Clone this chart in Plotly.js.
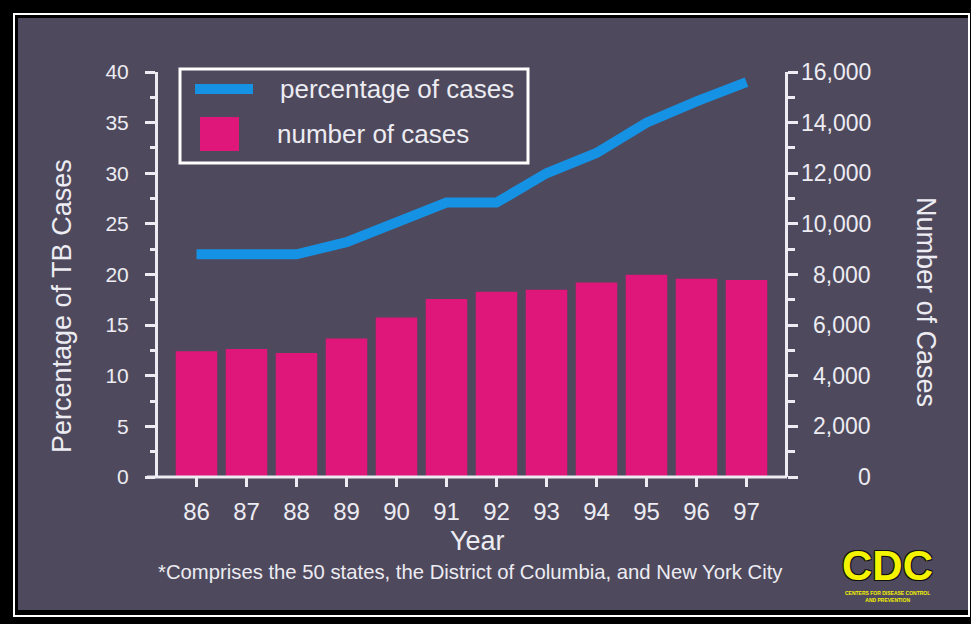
<!DOCTYPE html>
<html>
<head>
<meta charset="utf-8">
<script src="https://cdn.plot.ly/plotly-3.0.1.min.js"></script>
<style>
  html, body { margin: 0; padding: 0; background: #000; width: 971px; height: 624px; overflow: hidden; }
  #frame { position: absolute; left: 13px; top: 13px; width: 957px; height: 604px; box-sizing: border-box; border: 2px solid #fff; }
  #chart { position: absolute; left: 18px; top: 18px; width: 950px; height: 592px; }
</style>
</head>
<body>
<div id="frame"></div>
<div id="chart"></div>
<script>
// ---- data ----
const years = ['86','87','88','89','90','91','92','93','94','95','96','97'];
const pctCases = [22.0, 22.0, 22.0, 23.2, 25.2, 27.1, 27.1, 30.0, 32.0, 35.0, 37.1, 39.0];
const numCases = [4970, 5060, 4900, 5470, 6300, 7030, 7320, 7400, 7680, 7990, 7830, 7780];
const seriesNames = ['percentage of cases', 'number of cases'];
const leftTickVals = [0, 5, 10, 15, 20, 25, 30, 35, 40];
const rightTickVals = [0, 2000, 4000, 6000, 8000, 10000, 12000, 14000, 16000];
const rightTickText = ['0', '2,000', '4,000', '6,000', '8,000', '10,000', '12,000', '14,000', '16,000'];
const leftTitle = 'Percentage of TB Cases';
const rightTitle = 'Number of Cases';
const xTitle = 'Year';
const footnote = '*Comprises the 50 states, the District of Columbia, and New York City';
const logoText = 'CDC';
const logoSub = 'CENTERS FOR DISEASE CONTROL<br>AND PREVENTION';

// ---- layout geometry (page pixels -> paper coords) ----
const OFF = 18, W = 950, H = 592;
const ML = 140, MT = 54, PW = 627, PH = 405;
const MR = W - ML - PW, MB = H - MT - PH;
const px = X => (X - OFF - ML) / PW;
const py = Y => 1 - (Y - OFF - MT) / PH;

const FONT = 'Liberation Sans, Arial, Helvetica, sans-serif';
const TXT = '#ececf2';
const BG = '#4f495d';
const PINK = '#e0177a';
const BLUE = '#1592e3';

const traces = [
  { type: 'bar', x: years, y: numCases, name: seriesNames[1], yaxis: 'y',
    marker: { color: PINK, line: { width: 0 } }, width: 0.83, hoverinfo: 'skip' },
  { type: 'scatter', mode: 'lines', x: years, y: pctCases, name: seriesNames[0], yaxis: 'y2',
    line: { color: BLUE, width: 10 }, hoverinfo: 'skip' }
];

const shapes = [
  // x axis line (extends slightly left of the y axis)
  { type: 'line', xref: 'paper', yref: 'paper', x0: px(147), x1: px(787), y0: 0, y1: 0,
    line: { color: TXT, width: 3 } },
  // legend box
  { type: 'rect', xref: 'paper', yref: 'paper', x0: px(180), x1: px(528), y0: py(69), y1: py(163),
    line: { color: '#ffffff', width: 3 }, fillcolor: 'rgba(0,0,0,0)' },
  // legend line swatch
  { type: 'line', xref: 'paper', yref: 'paper', x0: px(195), x1: px(253), y0: py(89), y1: py(89),
    line: { color: BLUE, width: 10 } },
  // legend bar swatch
  { type: 'rect', xref: 'paper', yref: 'paper', x0: px(200), x1: px(239), y0: py(117), y1: py(151),
    line: { width: 0 }, fillcolor: PINK }
];

const annotations = [
  { xref: 'paper', yref: 'paper', x: px(278), y: py(89), xanchor: 'left', yanchor: 'middle',
    text: seriesNames[0], showarrow: false, font: { family: FONT, size: 26, color: TXT } },
  { xref: 'paper', yref: 'paper', x: px(275), y: py(134), xanchor: 'left', yanchor: 'middle',
    text: seriesNames[1], showarrow: false, font: { family: FONT, size: 26, color: TXT } },
  { xref: 'paper', yref: 'paper', x: px(62), y: py(306), xanchor: 'center', yanchor: 'middle',
    text: leftTitle, textangle: -90, showarrow: false, font: { family: FONT, size: 27, color: TXT } },
  { xref: 'paper', yref: 'paper', x: px(926), y: py(302), xanchor: 'center', yanchor: 'middle',
    text: rightTitle, textangle: 90, showarrow: false, font: { family: FONT, size: 27, color: TXT } },
  { xref: 'paper', yref: 'paper', x: px(477), y: py(541), xanchor: 'center', yanchor: 'middle',
    text: xTitle, showarrow: false, font: { family: FONT, size: 27, color: TXT } },
  { xref: 'paper', yref: 'paper', x: px(156), y: py(572), xanchor: 'left', yanchor: 'middle',
    text: footnote, showarrow: false, font: { family: FONT, size: 20.3, color: TXT } },
  { xref: 'paper', yref: 'paper', x: px(887), y: py(565), xanchor: 'center', yanchor: 'middle',
    text: '<b>' + logoText + '</b>', showarrow: false, borderpad: 0,
    font: { family: 'Liberation Sans Narrow, Arial Narrow, Liberation Sans, Arial, sans-serif', size: 42, color: '#f4f400',
            shadow: '1px 1px 0 #111, -1px -1px 0 #111, 1px -1px 0 #111, -1px 1px 0 #111' } },
  { xref: 'paper', yref: 'paper', x: px(887), y: py(596), xanchor: 'center', yanchor: 'middle',
    text: '<b>' + logoSub + '</b>', showarrow: false, borderpad: 0,
    font: { family: FONT, size: 5, color: '#f4f400' } }
];

// right-aligned right axis tick labels
rightTickVals.forEach((v, i) => {
  annotations.push({ xref: 'paper', yref: 'y', x: px(873), y: v, xanchor: 'right', yanchor: 'middle',
    text: rightTickText[i], showarrow: false, font: { family: FONT, size: 23, color: TXT } });
});

const layout = {
  width: W, height: H,
  margin: { l: ML, r: MR, t: MT, b: MB, pad: 0 },
  paper_bgcolor: BG, plot_bgcolor: BG,
  showlegend: false,
  font: { family: FONT, color: TXT },
  bargap: 0.17,
  xaxis: {
    type: 'category', range: [-0.77, 11.77], showgrid: false, zeroline: false, showline: false,
    ticks: 'outside', ticklen: 9, tickwidth: 3, tickcolor: TXT,
    tickfont: { family: FONT, size: 24, color: TXT }, ticklabelstandoff: 4
  },
  yaxis: {
    side: 'right', range: [0, 16000], tickvals: rightTickVals, showticklabels: false,
    showgrid: false, zeroline: false, showline: true, linecolor: TXT, linewidth: 3,
    ticks: 'outside', ticklen: 10, tickwidth: 3, tickcolor: TXT,
    minor: { dtick: 1000, ticks: 'outside', ticklen: 7, tickwidth: 3, tickcolor: TXT, showgrid: false }
  },
  yaxis2: {
    side: 'left', overlaying: 'y', range: [0, 40], tickvals: leftTickVals,
    showgrid: false, zeroline: false, showline: true, linecolor: TXT, linewidth: 3,
    ticks: 'outside', ticklen: 10, tickwidth: 3, tickcolor: TXT,
    tickfont: { family: FONT, size: 21, color: TXT }, ticklabelstandoff: 12,
    minor: { dtick: 2.5, ticks: 'outside', ticklen: 5, tickwidth: 3, tickcolor: TXT, showgrid: false }
  },
  shapes: shapes,
  annotations: annotations
};

Plotly.newPlot('chart', traces, layout, { displayModeBar: false, staticPlot: true });
</script>
</body>
</html>
